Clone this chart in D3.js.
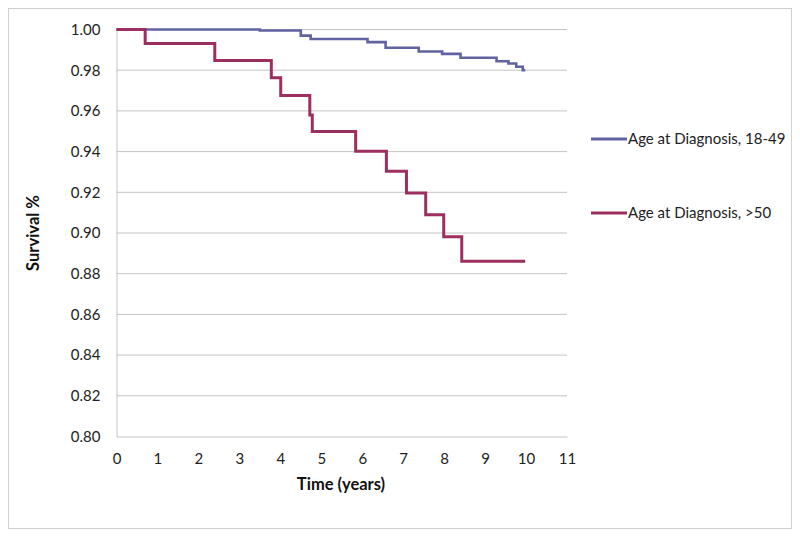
<!DOCTYPE html>
<html><head><meta charset="utf-8">
<script src="https://cdn.jsdelivr.net/npm/d3@7"></script>
<style>body{margin:0;background:#fff;} text{font-family:Lato,"Open Sans",sans-serif;}</style>
</head><body>
<svg id="c" width="800" height="537"></svg>
<script>
const seriesNames = ["Age at Diagnosis, 18-49", "Age at Diagnosis, >50"];
const blueTimes = [0, 3.5, 4.5, 4.74, 6.13, 6.57, 7.38, 7.95, 8.4, 9.28, 9.57, 9.76, 9.92, 9.98];
const blueValues = [1.0, 0.9995, 0.997, 0.9953, 0.9938, 0.991, 0.9892, 0.988, 0.9861, 0.9844, 0.9833, 0.9817, 0.980, 0.980];
const redTimes = [0, 0.7, 2.4, 3.78, 4.01, 4.72, 4.78, 5.84, 6.59, 7.08, 7.55, 7.99, 8.43, 9.98];
const redValues = [1.0, 0.9931, 0.9848, 0.9763, 0.9676, 0.958, 0.9499, 0.9402, 0.9304, 0.9197, 0.909, 0.8981, 0.8861, 0.8861];
const xTicks = [0,1,2,3,4,5,6,7,8,9,10,11];
const yTicks = [0.80,0.82,0.84,0.86,0.88,0.90,0.92,0.94,0.96,0.98,1.00];
const colors = ["#6163a0", "#9c2f5f"];

const svg = d3.select("#c");
svg.append("rect").attr("x",8.5).attr("y",8.5).attr("width",783).attr("height",520)
  .attr("fill","#fff").attr("stroke","#d0d0d0");

const x = d3.scaleLinear().domain([0,11]).range([116.5,567]);
const y = d3.scaleLinear().domain([0.80,1.00]).range([436.5,29.5]);

// gridlines
svg.append("g").selectAll("line").data(yTicks.filter(d=>d>0.801)).join("line")
  .attr("x1",x(0)).attr("x2",x(11)).attr("y1",d=>y(d)).attr("y2",d=>y(d))
  .attr("stroke","#c4c4c4").attr("stroke-width",1);

// axes
const xAxis = d3.axisBottom(x).tickValues(xTicks).tickFormat(d3.format("d")).tickSize(0).tickPadding(17);
const gx = svg.append("g").attr("transform",`translate(0,${y(0.80)})`).call(xAxis);
gx.select(".domain").attr("stroke","#c4c4c4");
gx.selectAll("text").attr("font-size",15).attr("fill","#222").style("font-family","Lato,sans-serif");

const yAxis = d3.axisLeft(y).tickValues(yTicks).tickFormat(d3.format(".2f")).tickSize(0).tickPadding(16);
const gy = svg.append("g").attr("transform",`translate(${x(0)},0)`).call(yAxis);
gy.select(".domain").attr("stroke","#c4c4c4");
gy.selectAll("text").attr("font-size",15).attr("fill","#222").style("font-family","Lato,sans-serif");

// lines
const line = d3.line().x(d=>x(d[0])).y(d=>y(d[1])).curve(d3.curveStepAfter);
const series = [d3.zip(blueTimes, blueValues), d3.zip(redTimes, redValues)];
svg.append("path").datum(series[0]).attr("d",line).attr("fill","none").attr("stroke",colors[0]).attr("stroke-width",2.6);
svg.append("path").datum(series[1]).attr("d",line).attr("fill","none").attr("stroke",colors[1]).attr("stroke-width",3);

// axis titles
svg.append("text").attr("x",341).attr("y",490).attr("text-anchor","middle")
  .attr("font-size",16.5).attr("font-weight","bold").attr("fill","#111").text("Time (years)");
svg.append("text").attr("transform","translate(39,233) rotate(-90)").attr("text-anchor","middle")
  .attr("font-size",16.5).attr("font-weight","bold").attr("fill","#111").text("Survival %");

// legend
const ly = [139, 213];
seriesNames.forEach((n,i)=>{
  svg.append("line").attr("x1",591).attr("x2",627).attr("y1",ly[i]).attr("y2",ly[i])
    .attr("stroke",colors[i]).attr("stroke-width",3);
  svg.append("text").attr("x",628).attr("y",ly[i]+5).attr("font-size",15).attr("fill","#222").text(n);
});
</script>
</body></html>
